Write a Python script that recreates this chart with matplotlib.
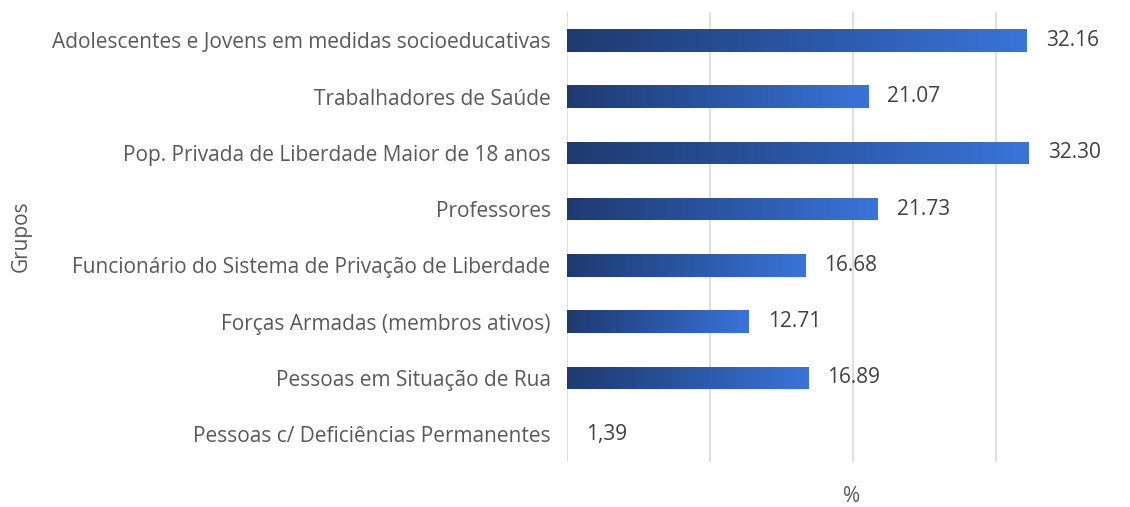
import matplotlib.pyplot as plt
from matplotlib.colors import LinearSegmentedColormap
import numpy as np

groups = [
    "Adolescentes e Jovens em medidas socioeducativas",
    "Trabalhadores de Saúde",
    "Pop. Privada de Liberdade Maior de 18 anos",
    "Professores",
    "Funcionário do Sistema de Privação de Liberdade",
    "Forças Armadas (membros ativos)",
    "Pessoas em Situação de Rua",
    "Pessoas c/ Deficiências Permanentes",
]
values = [32.16, 21.07, 32.30, 21.73, 16.68, 12.71, 16.89, 0]
value_labels = ["32.16", "21.07", "32.30", "21.73", "16.68", "12.71", "16.89", "1,39"]

plt.rcParams["font.family"] = ["Open Sans", "DejaVu Sans"]

fig = plt.figure(figsize=(11.30, 5.07), dpi=100)
ax = fig.add_axes([0.502, 0.088, 0.443, 0.888])

cmap = LinearSegmentedColormap.from_list("grad", ["#1f3a70", "#2a56a3", "#3a74d9"])
grad = np.linspace(0, 1, 256).reshape(1, -1)

y = np.arange(len(groups))
bars = ax.barh(y, values, height=0.4, color="none", edgecolor="none", zorder=2)
for bar, lab in zip(bars, value_labels):
    x0, y0 = bar.get_x(), bar.get_y()
    w, h = bar.get_width(), bar.get_height()
    if w > 0:
        im = ax.imshow(grad, cmap=cmap, aspect="auto", extent=(x0, x0 + w, y0, y0 + h),
                       zorder=2, interpolation="bilinear")
        im.set_clip_path(bar)
    ax.text(x0 + w + 1.3, y0 + h / 2, lab, va="center", ha="left",
            fontsize=15, color="#404040")

ax.set_xlim(0, 35)
ax.set_ylim(len(groups) - 0.5, -0.5)
ax.set_yticks(y)
ax.set_yticklabels(groups, fontsize=15, color="#595959")
ax.set_xticks([0, 10, 20, 30])
ax.set_xticklabels([])
ax.tick_params(length=0, pad=12)
ax.grid(axis="x", color="#d9d9d9", linewidth=1.2, zorder=0)
ax.set_axisbelow(True)
for s in ax.spines.values():
    s.set_visible(False)

fig.text(0.754, 0.02, "%", fontsize=15, color="#595959", va="center", ha="center")
fig.text(0.019, 0.535, "Grupos", rotation=90, fontsize=15, color="#595959",
         va="center", ha="center")

fig.savefig("out.png", dpi=100)
